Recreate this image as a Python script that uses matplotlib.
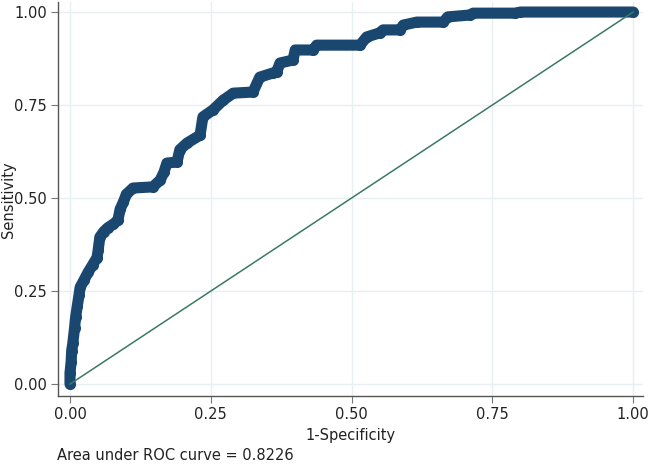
import numpy as np
import matplotlib
matplotlib.use("Agg")
import matplotlib.pyplot as plt

# ---------------------------------------------------------
# DATA
# ---------------------------------------------------------
fpr = [0.0, 0.0, 0.002, 0.003, 0.005, 0.008, 0.010, 0.013, 0.016, 0.018,
       0.025, 0.032, 0.040, 0.048, 0.050, 0.053, 0.060, 0.067, 0.077, 0.085,
       0.089, 0.095, 0.100, 0.112, 0.147, 0.160, 0.167, 0.172, 0.190, 0.195,
       0.208, 0.231, 0.236, 0.254, 0.272, 0.290, 0.325, 0.337, 0.360, 0.367,
       0.373, 0.396, 0.400, 0.432, 0.438, 0.515, 0.527, 0.550, 0.556, 0.586,
       0.592, 0.616, 0.663, 0.671, 0.710, 0.716, 0.790, 0.800, 1.0]
sens = [0.0, 0.03, 0.06, 0.09, 0.11, 0.15, 0.18, 0.21, 0.24, 0.26,
        0.28, 0.30, 0.32, 0.34, 0.36, 0.395, 0.41, 0.42, 0.43, 0.44,
        0.47, 0.49, 0.51, 0.527, 0.53, 0.548, 0.57, 0.594, 0.597, 0.63,
        0.648, 0.669, 0.718, 0.737, 0.763, 0.782, 0.785, 0.825, 0.836, 0.839,
        0.863, 0.871, 0.898, 0.898, 0.911, 0.911, 0.933, 0.944, 0.952, 0.952,
        0.965, 0.973, 0.973, 0.987, 0.992, 0.997, 0.997, 1.0, 1.0]
ref_line = [0.0, 1.0]
ticks = [0.0, 0.25, 0.50, 0.75, 1.0]
tick_labels = ["0.00", "0.25", "0.50", "0.75", "1.00"]
auc_text = "Area under ROC curve = 0.8226"

# ---------------------------------------------------------
# PLOT
# ---------------------------------------------------------
plt.rcParams['font.family'] = ['DejaVu Sans']
fig = plt.figure(figsize=(6.57, 4.65), dpi=100)
ax = fig.add_axes([0.0883, 0.1484, 0.8904, 0.8473])

ax.plot(fpr, sens, color='#1a476f', linewidth=8.0, solid_capstyle='round',
        solid_joinstyle='round', marker='o', markersize=8.0,
        markeredgewidth=0, zorder=3)
ax.plot(ref_line, ref_line, color='#3a7a62', linewidth=1.1, zorder=4)

ax.set_xlim(-0.0213, 1.0177)
ax.set_ylim(-0.032, 1.027)
ax.set_xticks(ticks)
ax.set_xticklabels(tick_labels)
ax.set_yticks(ticks)
ax.set_yticklabels(tick_labels)
ax.grid(True, color='#e8eff1', linewidth=1.0, zorder=0)
ax.set_axisbelow(True)

for side in ['top', 'right']:
    ax.spines[side].set_visible(False)
for side in ['left', 'bottom']:
    ax.spines[side].set_color('#555555')
    ax.spines[side].set_linewidth(1.0)
ax.tick_params(direction='out', length=5, width=0.8, color='#777777',
               labelsize=10.5, labelcolor='#222222', pad=3)

ax.set_xlabel('1-Specificity', fontsize=10.5, color='#222222', labelpad=4)
fig.text(9 / 657, 1 - 200 / 465, 'Sensitivity', fontsize=10.5, color='#222222',
         rotation=90, va='center', ha='center')
fig.text(57 / 657, 1 - 455 / 465, auc_text, fontsize=10.5, color='#222222',
         va='center', ha='left')

fig.savefig('out.png', dpi=100)
